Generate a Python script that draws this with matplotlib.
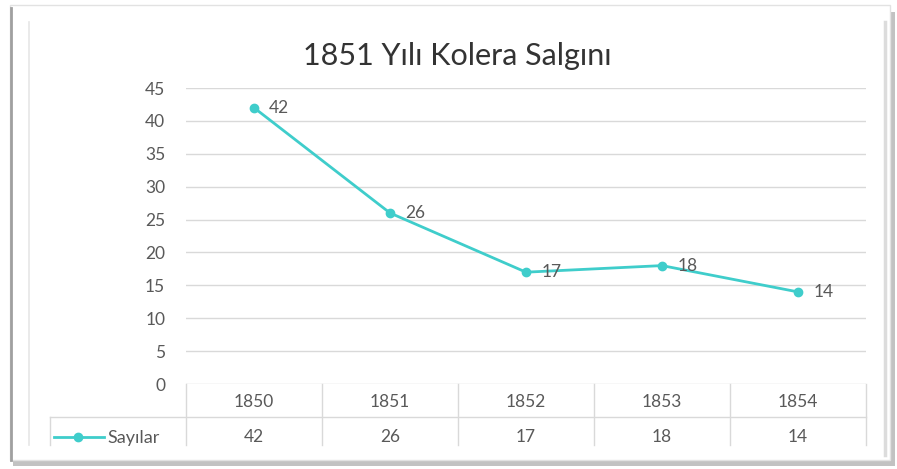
import matplotlib.pyplot as plt
from matplotlib.patches import Rectangle
from matplotlib.lines import Line2D
import matplotlib.transforms as mtransforms

# data
years = ['1850', '1851', '1852', '1853', '1854']
sayilar = [42, 26, 17, 18, 14]
series_name = 'Sayılar'
title = '1851 Yılı Kolera Salgını'
yticks = [0, 5, 10, 15, 20, 25, 30, 35, 40, 45]

W, H = 897, 469
col = '#3fcdcb'
txt = '#595959'
grid = '#d9d9d9'

plt.rcParams['font.family'] = ['Lato', 'DejaVu Sans']

fig = plt.figure(figsize=(W / 100, H / 100), dpi=100)
fig.patch.set_facecolor('white')

def fx(px):
    return px / W

def fy(py):
    return 1 - py / H

# card shadow and border
fig.patches.append(Rectangle((fx(13), fy(466)), fx(882), fy(12) - fy(466),
                             transform=fig.transFigure, facecolor='#9a9a9a',
                             edgecolor='none', alpha=0.6, zorder=0))
fig.patches.append(Rectangle((fx(10), fy(460)), fx(880), fy(5) - fy(460),
                             transform=fig.transFigure, facecolor='white',
                             edgecolor='#e2e2e2', lw=1, zorder=0))
fig.lines.append(Line2D([fx(11), fx(11)], [fy(8), fy(460)], transform=fig.transFigure,
                        color='#a0a0a0', lw=2, zorder=1))
# inner chart border
fig.lines.append(Line2D([fx(29), fx(29)], [fy(22), fy(445)], transform=fig.transFigure,
                        color='#e6e6e6', lw=1.2, zorder=1))
fig.lines.append(Line2D([fx(885), fx(885)], [fy(22), fy(455)], transform=fig.transFigure,
                        color='#dcdcdc', lw=2.5, zorder=1))

ax = fig.add_axes([fx(186), fy(384), fx(866) - fx(186), fy(88) - fy(384)])
ax.set_zorder(5)
ax.set_facecolor('none')
x = list(range(len(years)))
ax.plot(x, sayilar, '-o', color=col, lw=2, ms=6, zorder=3, clip_on=False)
for xi, v in zip(x, sayilar):
    ax.annotate(str(v), (xi, v), xytext=(11, 0), textcoords='offset points',
                ha='left', va='center', fontsize=12.5, color=txt)

ax.set_xlim(-0.5, len(years) - 0.5)
ax.set_ylim(0, 45)
ax.set_yticks(yticks)
ax.set_xticks([])
ax.yaxis.grid(True, color=grid, lw=1)
ax.set_axisbelow(True)
for s in ax.spines.values():
    s.set_visible(False)
ax.tick_params(axis='y', length=0, pad=15, labelsize=12.5, labelcolor=txt)

fig.text(fx(457), fy(56), title, ha='center', va='center', fontsize=22, color='#333333',
         zorder=6)

# data table below the axis
tr = mtransforms.blended_transform_factory(ax.transData, ax.transAxes)
ph = 384 - 88
def ay(py):
    return (384 - py) / ph

for i in range(len(years) + 1):
    ax.plot([i - 0.5, i - 0.5], [0, ay(445)], color=grid, lw=1, transform=tr, clip_on=False)
ax.plot([-1.5, len(years) - 0.5], [ay(417), ay(417)], color=grid, lw=1, transform=tr, clip_on=False)
ax.plot([-1.5, -1.5], [ay(417), ay(445)], color=grid, lw=1, transform=tr, clip_on=False)
for xi, yr, v in zip(x, years, sayilar):
    ax.text(xi, ay(402), yr, ha='center', va='center', fontsize=12.5, color=txt, transform=tr)
    ax.text(xi, ay(437), str(v), ha='center', va='center', fontsize=12.5, color=txt, transform=tr)

# legend key in the table
fig.lines.append(Line2D([fx(54), fx(104)], [fy(437), fy(437)], transform=fig.transFigure,
                        color=col, lw=2, zorder=6))
fig.lines.append(Line2D([fx(78)], [fy(437)], transform=fig.transFigure,
                        color=col, marker='o', ms=6, lw=0, zorder=6))
fig.text(fx(107), fy(438), series_name, ha='left', va='center',
         fontsize=13, color=txt, zorder=6)

fig.savefig('out.png', dpi=100)
